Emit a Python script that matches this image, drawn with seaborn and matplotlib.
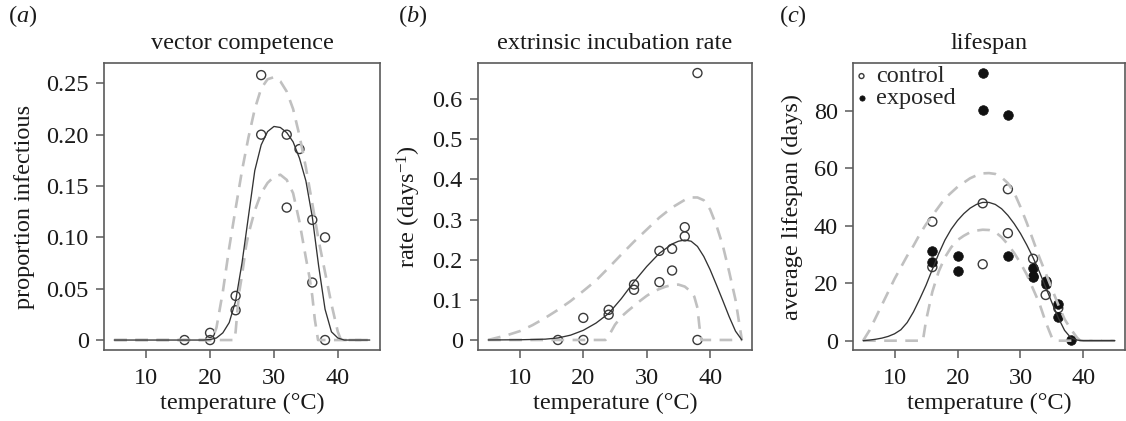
import numpy as np
import pandas as pd
import matplotlib
matplotlib.use("Agg")
import matplotlib.pyplot as plt
import seaborn as sns

# (a) vector competence: observed points and fitted curve with bounds
a_pts_t = [16, 20, 20, 24, 24, 28, 28, 32, 32, 34, 36, 36, 38, 38]
a_pts_y = [0, 0.007, 0, 0.043, 0.029, 0.258, 0.20, 0.20, 0.129, 0.186, 0.117, 0.056, 0.10, 0]
a_fit_t = [5, 19, 20, 21, 22, 23, 24, 25, 26, 27, 28, 29, 30, 31, 32, 33, 34, 35, 36, 37, 38, 39, 40, 41, 45]
a_fit = [0, 0, 0.0005, 0.002, 0.007, 0.017, 0.038, 0.075, 0.12, 0.165, 0.19, 0.203, 0.208, 0.207,
         0.202, 0.193, 0.177, 0.155, 0.12, 0.072, 0.03, 0.008, 0.002, 0, 0]
a_upper_t = [5, 20.3, 21, 22, 23, 24, 25, 26, 27, 28, 29, 30, 31, 32, 33, 34, 35, 36, 37, 38, 39, 40, 40.5, 45]
a_upper = [0, 0, 0.012, 0.047, 0.09, 0.128, 0.165, 0.197, 0.225, 0.245, 0.254, 0.256, 0.252, 0.242,
           0.225, 0.199, 0.168, 0.133, 0.097, 0.066, 0.035, 0.008, 0, 0]
a_lower_t = [5, 23.8, 24, 24.3, 24.6, 25, 25.6, 26, 27, 28, 29, 30, 31, 32, 33, 34, 35, 35.6, 36, 36.4, 36.9, 45]
a_lower = [0, 0, 0.008, 0.03, 0.048, 0.063, 0.09, 0.103, 0.126, 0.143, 0.153, 0.159, 0.161, 0.156,
           0.143, 0.115, 0.08, 0.06, 0.043, 0.02, 0, 0]

# (b) extrinsic incubation rate
b_pts_t = [16, 20, 20, 24, 24, 28, 28, 32, 32, 34, 34, 36, 36, 38, 38]
b_pts_y = [0, 0.055, 0, 0.075, 0.063, 0.138, 0.125, 0.222, 0.144, 0.227, 0.173, 0.281, 0.258, 0.665, 0]
b_fit_t = [5, 10, 14, 16, 18, 20, 22, 24, 26, 28, 30, 32, 34, 35, 36, 37, 38, 39, 40, 41, 42, 43, 44, 45]
b_fit = [0, 0.0005, 0.002, 0.005, 0.012, 0.024, 0.042, 0.066, 0.103, 0.145, 0.183, 0.216, 0.239,
         0.246, 0.249, 0.246, 0.233, 0.208, 0.175, 0.137, 0.098, 0.058, 0.022, 0]
b_upper_t = [5, 8, 10, 12, 14, 16, 18, 20, 22, 24, 26, 28, 30, 32, 34, 36, 37, 38, 39, 40, 41, 42, 43, 44, 44.5, 45]
b_upper = [0, 0.012, 0.022, 0.037, 0.055, 0.075, 0.097, 0.122, 0.148, 0.18, 0.213, 0.245, 0.275,
           0.305, 0.33, 0.349, 0.355, 0.355, 0.348, 0.325, 0.285, 0.235, 0.17, 0.1, 0.05, 0]
b_lower_t = [5, 23.5, 24, 25, 26, 27, 28, 29, 30, 31, 32, 33, 34, 35, 36, 37, 37.5, 38, 38.3, 38.6, 45]
b_lower = [0, 0, 0.01, 0.038, 0.058, 0.072, 0.085, 0.098, 0.11, 0.12, 0.127, 0.133, 0.137, 0.138,
           0.133, 0.12, 0.108, 0.08, 0.035, 0, 0]

# (c) lifespan
c_ctrl_t = [16, 16, 24, 24, 28, 28, 32, 34, 36]
c_ctrl_y = [41.4, 25.6, 47.8, 26.6, 52.7, 37.4, 28.5, 15.9, 11.3]
c_exp_t = [16, 16, 20, 20, 24, 24, 28, 28, 32, 32, 32, 34, 34, 36, 36, 38]
c_exp_y = [31.3, 27.4, 29.3, 24.4, 93.1, 80.2, 78.6, 29.3, 25.4, 22.6, 22.0, 20.6, 19.8, 12.8, 8.4, 0.3]
c_fit_t = [5, 6, 7, 8, 9, 10, 11, 12, 13, 14, 15, 16, 17, 18, 19, 20, 21, 22, 23, 24, 25, 26, 27,
           28, 29, 30, 31, 32, 33, 34, 35, 36, 37, 38, 39, 40, 45]
c_fit = [0, 0.2, 0.5, 0.9, 1.5, 2.4, 3.8, 6.3, 10, 14.5, 19.3, 24.8, 30.2, 35, 38.8, 41.8, 44.2,
         46.1, 47.4, 48.1, 48.1, 47.4, 45.9, 43.6, 40.7, 37.3, 33.3, 28.9, 24, 18.6, 13.2, 8, 3.6,
         1, 0.2, 0, 0]
c_upper_t = [5, 6, 7, 8, 9, 10, 11, 12, 13, 14, 15, 16, 17, 18, 19, 20, 21, 22, 23, 24, 25, 26,
             27, 28, 29, 30, 31, 32, 33, 34, 35, 36, 37, 38, 39, 39.5, 45]
c_upper = [0, 3.5, 8, 12.5, 17, 21.5, 25.5, 29.5, 33, 37, 40.5, 43.5, 46.5, 49.5, 51.5, 53.5, 55,
           56.5, 57.5, 58.2, 58.3, 58, 56.8, 54.8, 51.5, 46.5, 41, 35, 29, 23.5, 18, 12.5, 7.5,
           4, 1, 0, 0]
c_lower_t = [5, 14.5, 15, 16, 17, 18, 19, 20, 21, 22, 23, 24, 25, 26, 27, 28, 29, 30, 31, 32, 33,
             34, 35, 35.5, 45]
c_lower = [0, 0, 7, 17, 24, 29, 32.5, 35, 36.5, 37.7, 38.3, 38.6, 38.5, 37.8, 36, 33.5, 30.5, 27,
           23, 18, 13, 6.5, 1, 0, 0]

titles = ["vector competence", "extrinsic incubation rate", "lifespan"]
ylabels = ["proportion infectious", "rate (days$^{\\mathregular{-1}}$)", "average lifespan (days)"]
panel_tags = ["a", "b", "c"]

sns.set_theme(style="white")
plt.rcParams["font.family"] = ["Liberation Serif", "DejaVu Serif"]
plt.rcParams["mathtext.fontset"] = "custom"
plt.rcParams["mathtext.rm"] = "Liberation Serif"
plt.rcParams["mathtext.it"] = "Liberation Serif:italic"

spine_col = "#5a5a5a"
dash_col = "#c0c0c0"
line_col = "#333333"
txt_col = "#1a1a1a"
fs = 17.5

fig = plt.figure(figsize=(11.26, 4.21), dpi=100)
W, H = 1126, 421
boxes = [(104, 380), (478, 752), (853, 1125)]
axes = []
for left, right in boxes:
    axes.append(fig.add_axes([left / W, (H - 350) / H, (right - left) / W, (350 - 63) / H]))

def draw_fit(ax, t, fit, up_t, up, lo_t, lo):
    for xs, ys in [(up_t, up), (lo_t, lo)]:
        sns.lineplot(x=xs, y=ys, ax=ax, color=dash_col, linewidth=1.9,
                     estimator=None).lines[-1].set_dashes((4.8, 3.2))
    sns.lineplot(x=t, y=fit, ax=ax, color=line_col, linewidth=0.95, estimator=None)

ax = axes[0]
draw_fit(ax, a_fit_t, a_fit, a_upper_t, a_upper, a_lower_t, a_lower)
sns.scatterplot(x=a_pts_t, y=a_pts_y, ax=ax, s=42, facecolor="none", edgecolor="#3a3a3a", linewidth=1.0)
ax.set_ylim(-0.0097, 0.2698)
ax.set_yticks([0, 0.05, 0.10, 0.15, 0.20, 0.25])
ax.set_yticklabels(["0", "0.05", "0.10", "0.15", "0.20", "0.25"])

ax = axes[1]
draw_fit(ax, b_fit_t, b_fit, b_upper_t, b_upper, b_lower_t, b_lower)
sns.scatterplot(x=b_pts_t, y=b_pts_y, ax=ax, s=42, facecolor="none", edgecolor="#3a3a3a", linewidth=1.0)
ax.set_ylim(-0.025, 0.69)
ax.set_yticks([0, 0.1, 0.2, 0.3, 0.4, 0.5, 0.6])
ax.set_yticklabels(["0", "0.1", "0.2", "0.3", "0.4", "0.5", "0.6"])

ax = axes[2]
draw_fit(ax, c_fit_t, c_fit, c_upper_t, c_upper, c_lower_t, c_lower)
sns.scatterplot(x=c_ctrl_t, y=c_ctrl_y, ax=ax, s=42, facecolor="none", edgecolor="#3a3a3a",
                linewidth=1.0, label="control")
sns.scatterplot(x=c_exp_t, y=c_exp_y, ax=ax, s=48, color="#111111", edgecolor="#111111",
                linewidth=0.5, label="exposed")
ax.set_ylim(-3.24, 96.6)
ax.set_yticks([0, 20, 40, 60, 80])
ax.legend(loc="upper left", frameon=False, fontsize=fs, markerscale=0.55,
          handlelength=0.5, handletextpad=0.35, labelspacing=0.0,
          borderaxespad=0.0, borderpad=0.1)

ylab_x = [-0.25, -0.2, -0.184]
for i, ax in enumerate(axes):
    ax.set_xlim(3.4, 46.6)
    ax.set_xticks([10, 20, 30, 40])
    for sp in ax.spines.values():
        sp.set_color(spine_col)
        sp.set_linewidth(1.2)
    ax.tick_params(axis="both", direction="out", length=6, width=1.1, color=spine_col,
                   labelsize=fs, pad=5, left=True, bottom=True, labelcolor=txt_col)
    ax.tick_params(axis="x", pad=7)
    ax.set_xlabel("temperature (°C)", fontsize=fs, color=txt_col)
    ax.set_ylabel(ylabels[i], fontsize=fs, color=txt_col)
    ax.yaxis.set_label_coords(ylab_x[i], 0.5)
    ax.xaxis.set_label_coords(0.5, -0.15)
    ax.set_title(titles[i], fontsize=fs, pad=10, color=txt_col)
    ax.grid(False)

tag_x = [8, 398, 779]
for tx, tag in zip(tag_x, panel_tags):
    fig.text(tx / W, 1 - 22 / H, "($\\mathit{" + tag + "}$)", fontsize=fs, color=txt_col)

fig.savefig("out.png", dpi=100)
